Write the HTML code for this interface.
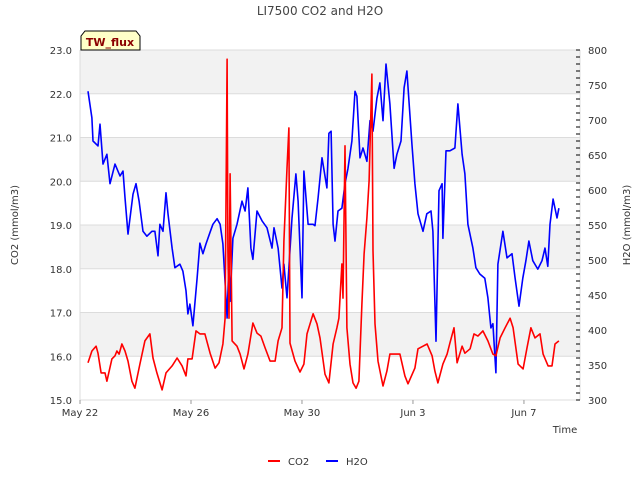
<!DOCTYPE html>
<html><head><meta charset="utf-8"><style>
body{margin:0;background:#fff}
svg{display:block;font-family:"DejaVu Sans","Liberation Sans",sans-serif}
</style></head><body>
<svg id="chart" width="640" height="480">
<text x="320" y="15" text-anchor="middle" font-size="12" fill="#444">LI7500 CO2 and H2O</text>
<g id="bands"></g>
<g id="grid"></g>
<g id="axes"></g>
<g id="series"></g>
<g>
<path d="M81,50 L81,36 L85,31 L136,31 L140,36 L140,50 Z" fill="#ffffc8" stroke="#000" stroke-width="1"/>
<text x="110" y="46" text-anchor="middle" font-size="11" font-weight="bold" fill="#8b0000">TW_flux</text>
</g>
<text x="18" y="225" transform="rotate(-90 18 225)" text-anchor="middle" font-size="10" fill="#333">CO2 (mmol/m3)</text>
<text x="630" y="225" transform="rotate(-90 630 225)" text-anchor="middle" font-size="10" fill="#333">H2O (mmol/m3)</text>
<text x="565" y="433" text-anchor="middle" font-size="10" fill="#333">Time</text>
<g>
<g><line x1="268" y1="461" x2="280" y2="461" stroke="#f00" stroke-width="2"/><text x="288" y="465" font-size="10" fill="#333">CO2</text></g>
<g><line x1="326" y1="461" x2="338" y2="461" stroke="#00f" stroke-width="2"/><text x="346" y="465" font-size="10" fill="#333">H2O</text></g>
</g>
</svg>
<script>
const xTickLabels=["May 22","May 26","May 30","Jun 3","Jun 7"];
const xTickDays=[0,4,8,12,16];
const leftTicks=[15,16,17,18,19,20,21,22,23];
const rightTicks=[300,350,400,450,500,550,600,650,700,750,800];
const co2Days=[0.29,0.43,0.58,0.65,0.76,0.90,0.97,1.15,1.26,1.33,1.41,1.51,1.62,1.73,1.87,1.98,2.16,2.34,2.52,2.63,2.77,2.96,3.10,3.32,3.50,3.68,3.82,3.89,4.04,4.18,4.32,4.50,4.69,4.87,5.01,5.15,5.23,5.30,5.33,5.37,5.41,5.48,5.66,5.77,5.91,6.05,6.23,6.38,6.52,6.67,6.85,7.03,7.14,7.28,7.35,7.46,7.53,7.57,7.75,7.93,8.07,8.18,8.40,8.54,8.65,8.83,8.97,
9.12,9.26,9.33,9.44,9.48,9.55,9.62,9.73,9.84,9.95,10.05,10.16,10.24,10.34,10.42,10.52,10.56,10.63,10.74,10.92,11.06,11.17,11.35,11.53,11.71,11.82,12.07,12.18,12.36,12.51,12.69,12.79,12.90,13.08,13.23,13.33,13.48,13.59,13.77,13.87,14.06,14.20,14.34,14.52,14.70,14.88,14.99,15.14,15.32,15.50,15.61,15.79,15.97,16.11,16.25,16.40,16.58,16.69,16.87,17.01,17.12,17.26];
const co2Values=[15.85,16.12,16.23,16.07,15.62,15.62,15.43,15.94,16.01,16.12,16.05,16.28,16.12,15.89,15.43,15.27,15.82,16.35,16.51,15.96,15.62,15.23,15.62,15.78,15.96,15.78,15.55,15.94,15.94,16.58,16.51,16.51,16.07,15.73,15.85,16.28,16.87,22.79,18.41,16.87,20.17,16.35,16.23,16.05,15.71,16.05,16.76,16.53,16.46,16.19,15.89,15.89,16.35,16.65,18.63,20.30,21.22,16.30,15.89,15.64,15.82,16.51,16.97,16.74,16.42,15.59,15.39,
16.28,16.65,16.87,18.11,17.33,20.81,16.65,15.82,15.39,15.27,15.43,17.19,18.34,19.16,20.01,22.45,18.41,16.74,15.89,15.32,15.66,16.05,16.05,16.05,15.55,15.37,15.73,16.17,16.23,16.28,16.01,15.66,15.39,15.82,16.05,16.30,16.65,15.85,16.23,16.07,16.17,16.51,16.46,16.58,16.35,16.05,16.01,16.42,16.65,16.87,16.65,15.82,15.71,16.19,16.65,16.42,16.51,16.05,15.78,15.78,16.28,16.35];
const h2oDays=[0.29,0.43,0.47,0.65,0.72,0.83,0.97,1.08,1.26,1.44,1.55,1.62,1.73,1.91,2.02,2.13,2.27,2.41,2.59,2.70,2.81,2.88,2.99,3.10,3.17,3.32,3.42,3.60,3.71,3.82,3.89,3.96,4.07,4.22,4.32,4.43,4.54,4.68,4.79,4.94,5.05,5.15,5.30,5.37,5.41,5.51,5.66,5.84,5.95,6.05,6.16,6.23,6.38,6.56,6.74,6.92,6.99,7.14,7.28,7.35,7.46,7.64,7.78,7.86,8.00,8.07,8.22,8.40,8.47,8.58,8.72,8.90,8.97,
9.05,9.12,9.19,9.30,9.44,9.55,9.66,9.80,9.91,9.98,10.09,10.20,10.34,10.45,10.56,10.70,10.81,10.92,11.03,11.17,11.32,11.42,11.57,11.68,11.78,11.96,12.07,12.18,12.36,12.50,12.65,12.72,12.83,12.94,13.05,13.08,13.19,13.33,13.51,13.62,13.77,13.87,13.98,14.16,14.27,14.41,14.59,14.70,14.81,14.88,14.99,15.06,15.24,15.39,15.57,15.68,15.82,15.96,16.07,16.18,16.32,16.50,16.65,16.76,16.86,16.94,17.05,17.19,17.26];
const h2oValues=[741,703,670,663,694,637,651,609,637,620,627,589,537,594,609,584,541,534,541,541,506,551,541,596,566,517,489,494,484,456,423,437,406,474,524,509,523,539,551,559,551,523,417,503,441,531,551,584,570,603,517,501,570,556,546,517,546,517,460,494,446,560,623,584,446,627,551,551,549,589,646,603,681,
684,551,527,570,574,609,631,670,741,734,646,660,641,699,684,731,753,699,780,723,631,651,670,746,770,666,609,566,541,566,570,541,384,599,609,531,656,656,660,723,651,623,551,517,489,480,474,446,403,409,339,494,541,503,509,474,434,474,499,527,499,487,499,517,491,551,587,560,574];

const NS="http://www.w3.org/2000/svg";
const L=80,R=580,T=50,B=400;
const xS=d=>L+d*(R-L)/18.02;
const yL=v=>B-(v-15)*(B-T)/8;
const yR=v=>B-(v-300)*(B-T)/500;
function mk(tag,attrs,parent){const e=document.createElementNS(NS,tag);for(const k in attrs)e.setAttribute(k,attrs[k]);parent.appendChild(e);return e;}
const bands=document.getElementById('bands'),grid=document.getElementById('grid'),axes=document.getElementById('axes'),series=document.getElementById('series');
mk('rect',{x:L,y:T,width:R-L,height:B-T,fill:'#fff'},bands);
[16,18,20,22].forEach(v=>{const r=mk('rect',{x:L,y:yL(v+1),width:R-L,height:yL(v)-yL(v+1),fill:'#f2f2f2'},bands);

});
leftTicks.forEach(v=>{const ln=mk('line',{x1:L,x2:R,y1:yL(v),y2:yL(v),stroke:'#dcdcdc','stroke-width':1},grid);


const t=mk('text',{x:L-8,y:yL(v)+4,'text-anchor':'end','font-size':10,fill:'#333'},axes);t.textContent=v.toFixed(1);

});
mk('line',{x1:L,x2:L,y1:T,y2:B,stroke:'#dcdcdc'},axes);
mk('line',{x1:L,x2:R,y1:B,y2:B,stroke:'#dcdcdc'},axes);
mk('line',{x1:R,x2:R,y1:T,y2:B,stroke:'#dcdcdc'},axes);
for(let v=300;v<=800;v+=10){mk('line',{x1:R-4,x2:R,y1:yR(v),y2:yR(v),stroke:'#000'},axes);}
rightTicks.forEach(v=>{const t=mk('text',{x:R+8,y:yR(v)+4,'font-size':10,fill:'#333'},axes);t.textContent=v;

});
xTickDays.forEach((d,i)=>{mk('line',{x1:xS(d),x2:xS(d),y1:B,y2:B+4,stroke:'#999'},axes);
const t=mk('text',{x:xS(d),y:B+16,'text-anchor':'middle','font-size':10,fill:'#333'},axes);t.textContent=xTickLabels[i];

});
function line(days,vals,ys,color,name){const p=days.map((d,i)=>xS(d).toFixed(1)+','+ys(vals[i]).toFixed(1)).join(' ');
const e=mk('polyline',{points:p,fill:'none',stroke:color,'stroke-width':1.6,'stroke-linejoin':'round'},series);

}
line(h2oDays,h2oValues,yR,'#00f','h2o-line');
line(co2Days,co2Values,yL,'#f00','co2-line');
</script>
</body></html>
